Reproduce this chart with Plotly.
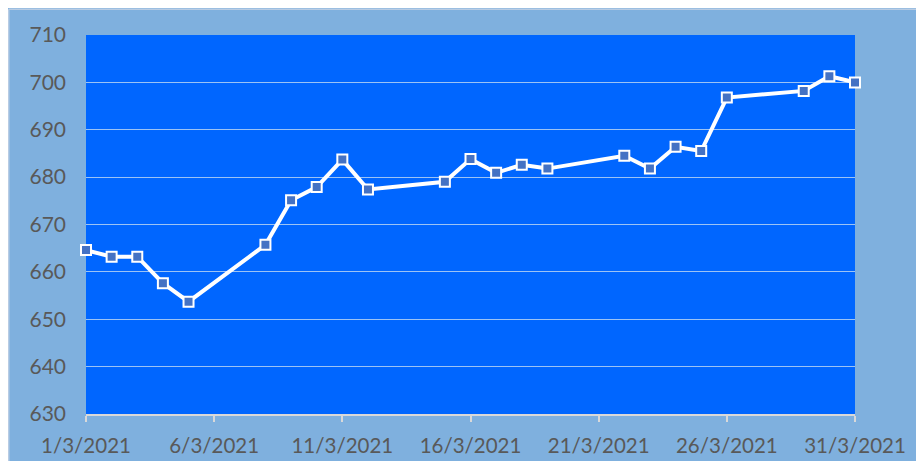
import plotly.graph_objects as go

dates = ["2021-03-01", "2021-03-02", "2021-03-03", "2021-03-04", "2021-03-05",
         "2021-03-08", "2021-03-09", "2021-03-10", "2021-03-11", "2021-03-12",
         "2021-03-15", "2021-03-16", "2021-03-17", "2021-03-18", "2021-03-19",
         "2021-03-22", "2021-03-23", "2021-03-24", "2021-03-25", "2021-03-26",
         "2021-03-29", "2021-03-30", "2021-03-31"]
values = [664.6, 663.2, 663.2, 657.6, 653.7,
          665.7, 675.1, 677.9, 683.7, 677.4,
          679.0, 683.8, 680.9, 682.6, 681.8,
          684.5, 681.8, 686.4, 685.5, 696.8,
          698.2, 701.3, 700.0]
tick_dates = ["2021-03-01", "2021-03-06", "2021-03-11", "2021-03-16",
              "2021-03-21", "2021-03-26", "2021-03-31"]
tick_labels = ["1/3/2021", "6/3/2021", "11/3/2021", "16/3/2021",
               "21/3/2021", "26/3/2021", "31/3/2021"]
y_ticks = [630, 640, 650, 660, 670, 680, 690, 700, 710]

# page body has an 8px margin, so the figure is drawn at (8, 8)
W, H = 916, 453
ML, MR, MT, MB = 78, 69, 27, 47
PW, PH = W - ML - MR, H - MT - MB

def px_x(p):
    return (p - ML) / PW

def px_y(p):
    return (H - MB - p) / PH

fig = go.Figure()
fig.add_trace(go.Scatter(
    x=dates, y=values, mode="lines+markers",
    line=dict(color="white", width=4),
    marker=dict(symbol="square", size=10, color="#4472C4",
                line=dict(color="white", width=2)),
    cliponaxis=False, showlegend=False))

font = dict(family="Lato, 'Open Sans', sans-serif", color="#595959")

fig.update_layout(
    width=W, height=H,
    margin=dict(l=ML, r=MR, t=MT, b=MB, pad=0),
    paper_bgcolor="#7FB0DE",
    plot_bgcolor="#0066FF",
    xaxis=dict(type="date", range=["2021-03-01", "2021-03-31"],
               tickvals=tick_dates, ticktext=tick_labels,
               showgrid=False, zeroline=False, automargin=False,
               showline=True, linecolor="#D9D9D9", linewidth=1.5,
               ticks="outside", ticklen=6, tickcolor="#D9D9D9", tickwidth=1.5,
               ticklabelstandoff=7,
               tickfont=dict(size=20.5, **font)),
    yaxis=dict(range=[630, 710], tickvals=y_ticks, automargin=False,
               showgrid=True, gridcolor="#9CC3F5", gridwidth=1.2,
               zeroline=False, showline=False, ticks="",
               ticklabelstandoff=19,
               tickfont=dict(size=21, **font)),
    shapes=[
        dict(type="line", xref="paper", yref="paper",
             x0=px_x(0.75), x1=px_x(W + 5), y0=px_y(1.25), y1=px_y(1.25),
             line=dict(color="#B8CCE4", width=1.5), layer="below"),
        dict(type="line", xref="paper", yref="paper",
             x0=px_x(0.75), x1=px_x(0.75), y0=px_y(1.25), y1=px_y(H + 5),
             line=dict(color="#B8CCE4", width=1.5), layer="below"),
    ],
)

fig.write_html("out.html")
